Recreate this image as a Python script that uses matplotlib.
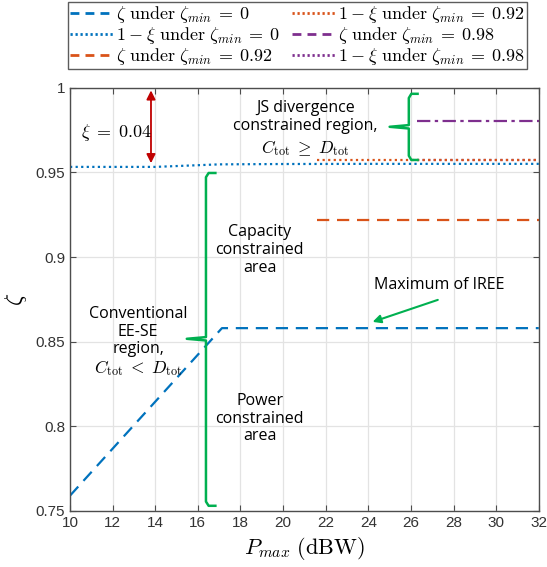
import numpy as np
import matplotlib
matplotlib.use("Agg")
import matplotlib.pyplot as plt
from matplotlib.lines import Line2D

plt.rcParams['mathtext.fontset'] = 'cm'

# ---- data ----
p_max = [10, 17.13, 32]
zeta_min0 = [0.759, 0.858, 0.858]

p_xi0 = [10, 12, 14, 16, 17, 20, 24, 28, 32]
one_minus_xi_min0 = [0.9533, 0.9533, 0.9533, 0.9543, 0.9548, 0.9550, 0.9551, 0.9551, 0.9551]

p_092 = [21.6, 32]
zeta_min092 = [0.922, 0.922]
one_minus_xi_min092 = [0.9575, 0.9575]

p_098 = [26.3, 32]
zeta_min098 = [0.9805, 0.9805]
one_minus_xi_min098 = [0.9575, 0.9575]

x_ticks = list(range(10, 33, 2))
y_ticks = [0.75, 0.8, 0.85, 0.9, 0.95, 1.0]
y_ticklabels = ['0.75', '0.8', '0.85', '0.9', '0.95', '1']

blue = '#0072BD'
orange = '#D95319'
purple = '#7E2F8E'
green = '#00B050'
red = '#C00000'

fig = plt.figure(figsize=(5.47, 5.67), dpi=100)
ax = fig.add_axes([0.128, 0.099, 0.857, 0.746])

lw = 1.6
l1, = ax.plot(p_max, zeta_min0, color=blue, lw=lw, ls=(0, (5.5, 3.5)))
l2, = ax.plot(p_xi0, one_minus_xi_min0, color=blue, lw=lw, ls=(0, (1, 1.5)))
l3, = ax.plot(p_092, zeta_min092, color=orange, lw=lw, ls=(0, (5.5, 3.5)))
l6, = ax.plot(p_098, one_minus_xi_min098, color=purple, lw=lw, ls=(0, (1, 1.5)))
l4, = ax.plot(p_092, one_minus_xi_min092, color=orange, lw=lw, ls=(0, (1, 1.5)))
l5, = ax.plot(p_098, zeta_min098, color=purple, lw=lw, ls=(0, (6, 2, 1.5, 2)))

ax.set_xlim(10, 32)
ax.set_ylim(0.75, 1.0)
ax.set_xticks(x_ticks)
ax.set_xticklabels([str(v) for v in x_ticks])
ax.set_yticks(y_ticks)
ax.set_yticklabels(y_ticklabels)
ax.grid(True, color='#e3e3e3', lw=0.9)
ax.set_axisbelow(True)
for s in ax.spines.values():
    s.set_color('#4d4d4d')
    s.set_linewidth(1.0)
ax.tick_params(direction='in', top=True, right=True, length=4, width=0.8,
               color='#4d4d4d', labelcolor='#333333', labelsize=11)
for lab in ax.get_xticklabels() + ax.get_yticklabels():
    lab.set_family('Liberation Sans')

ax.set_xlabel(r'$P_{max}\ \mathrm{(dBW)}$', fontsize=16, labelpad=4)
ax.set_ylabel(r'$\zeta$', fontsize=17, rotation=90)
ax.yaxis.set_label_coords(-0.088, 0.5)

# ---- annotations ----
tf = dict(family='Open Sans', fontsize=11.5, color='black', ha='center', va='center',
          linespacing=1.15)
mf = dict(fontsize=12.5, ha='center', va='center')

# xi arrow
ax.annotate('', xy=(13.8, 0.9985), xytext=(13.8, 0.9555),
            arrowprops=dict(arrowstyle='<|-|>', color=red, lw=1.3,
                            mutation_scale=13, shrinkA=0, shrinkB=0))
ax.text(12.15, 0.9737, r'$\xi\;=\;0.04$', fontsize=13, ha='center', va='center')

ax.text(21.05, 0.9830, 'JS divergence\nconstrained region,', **tf)
ax.text(21.05, 0.9645, r'$C_{\mathrm{tot}}\;\geq\;D_{\mathrm{tot}}$', **mf)

ax.text(18.9, 0.9043, 'Capacity\nconstrained\narea', **tf)
ax.text(18.9, 0.8045, 'Power\nconstrained\narea', **tf)
ax.text(13.2, 0.8560, 'Conventional\nEE-SE\nregion,', **tf)
ax.text(13.2, 0.8345, r'$C_{\mathrm{tot}}\;<\;D_{\mathrm{tot}}$', **mf)

ax.text(27.35, 0.8836, 'Maximum of IREE', **tf)
ax.annotate('', xy=(24.2, 0.8617), xytext=(27.26, 0.8747),
            arrowprops=dict(arrowstyle='-|>', color=green, lw=1.5,
                            mutation_scale=12, shrinkA=0, shrinkB=0))


def brace(x, y0, y1, ymid, hook, tip):
    """Vertical curly brace: hooks point right, middle tip points left."""
    xs = [x + hook, x + hook * 0.25, x, x, x - tip, x, x, x + hook * 0.25, x + hook]
    r = 0.0025
    ys = [y1, y1, y1 - r, ymid + 0.001, ymid, ymid - 0.001, y0 + r, y0, y0]
    ax.plot(xs, ys, color=green, lw=1.8, solid_capstyle='butt', solid_joinstyle='round',
            clip_on=False)


brace(16.38, 0.7530, 0.9497, 0.8517, 0.5, 0.9)
brace(25.9, 0.9574, 0.9965, 0.9770, 0.47, 0.9)

# ---- legend ----
handles = [l1, l2, l3, l4, l5, l6]
labels = [r'$\zeta\ \mathrm{under}\ \zeta_{min}\:=\:0$',
          r'$1\:-\:\xi\ \mathrm{under}\ \zeta_{min}\:=\:0$',
          r'$\zeta\ \mathrm{under}\ \zeta_{min}\:=\:0.92$',
          r'$1\:-\:\xi\ \mathrm{under}\ \zeta_{min}\:=\:0.92$',
          r'$\zeta\ \mathrm{under}\ \zeta_{min}\:=\:0.98$',
          r'$1\:-\:\xi\ \mathrm{under}\ \zeta_{min}\:=\:0.98$']
leg_handles = [Line2D([], [], color=h.get_color(), lw=2.0,
                      ls=(0, (3.2, 2.2)) if i in (0, 2, 4) else (0, (0.8, 1.0)))
               for i, h in enumerate(handles)]
leg = fig.legend(leg_handles, labels, ncol=2, loc='upper center',
                 bbox_to_anchor=(0.544, 0.9965), fontsize=13, frameon=True,
                 fancybox=False, edgecolor='#333333', handlelength=2.4,
                 handletextpad=0.15, columnspacing=0.7, labelspacing=0.0,
                 borderpad=0.12, borderaxespad=0)
leg.get_frame().set_linewidth(1.0)

fig.savefig('out.png', dpi=100)
